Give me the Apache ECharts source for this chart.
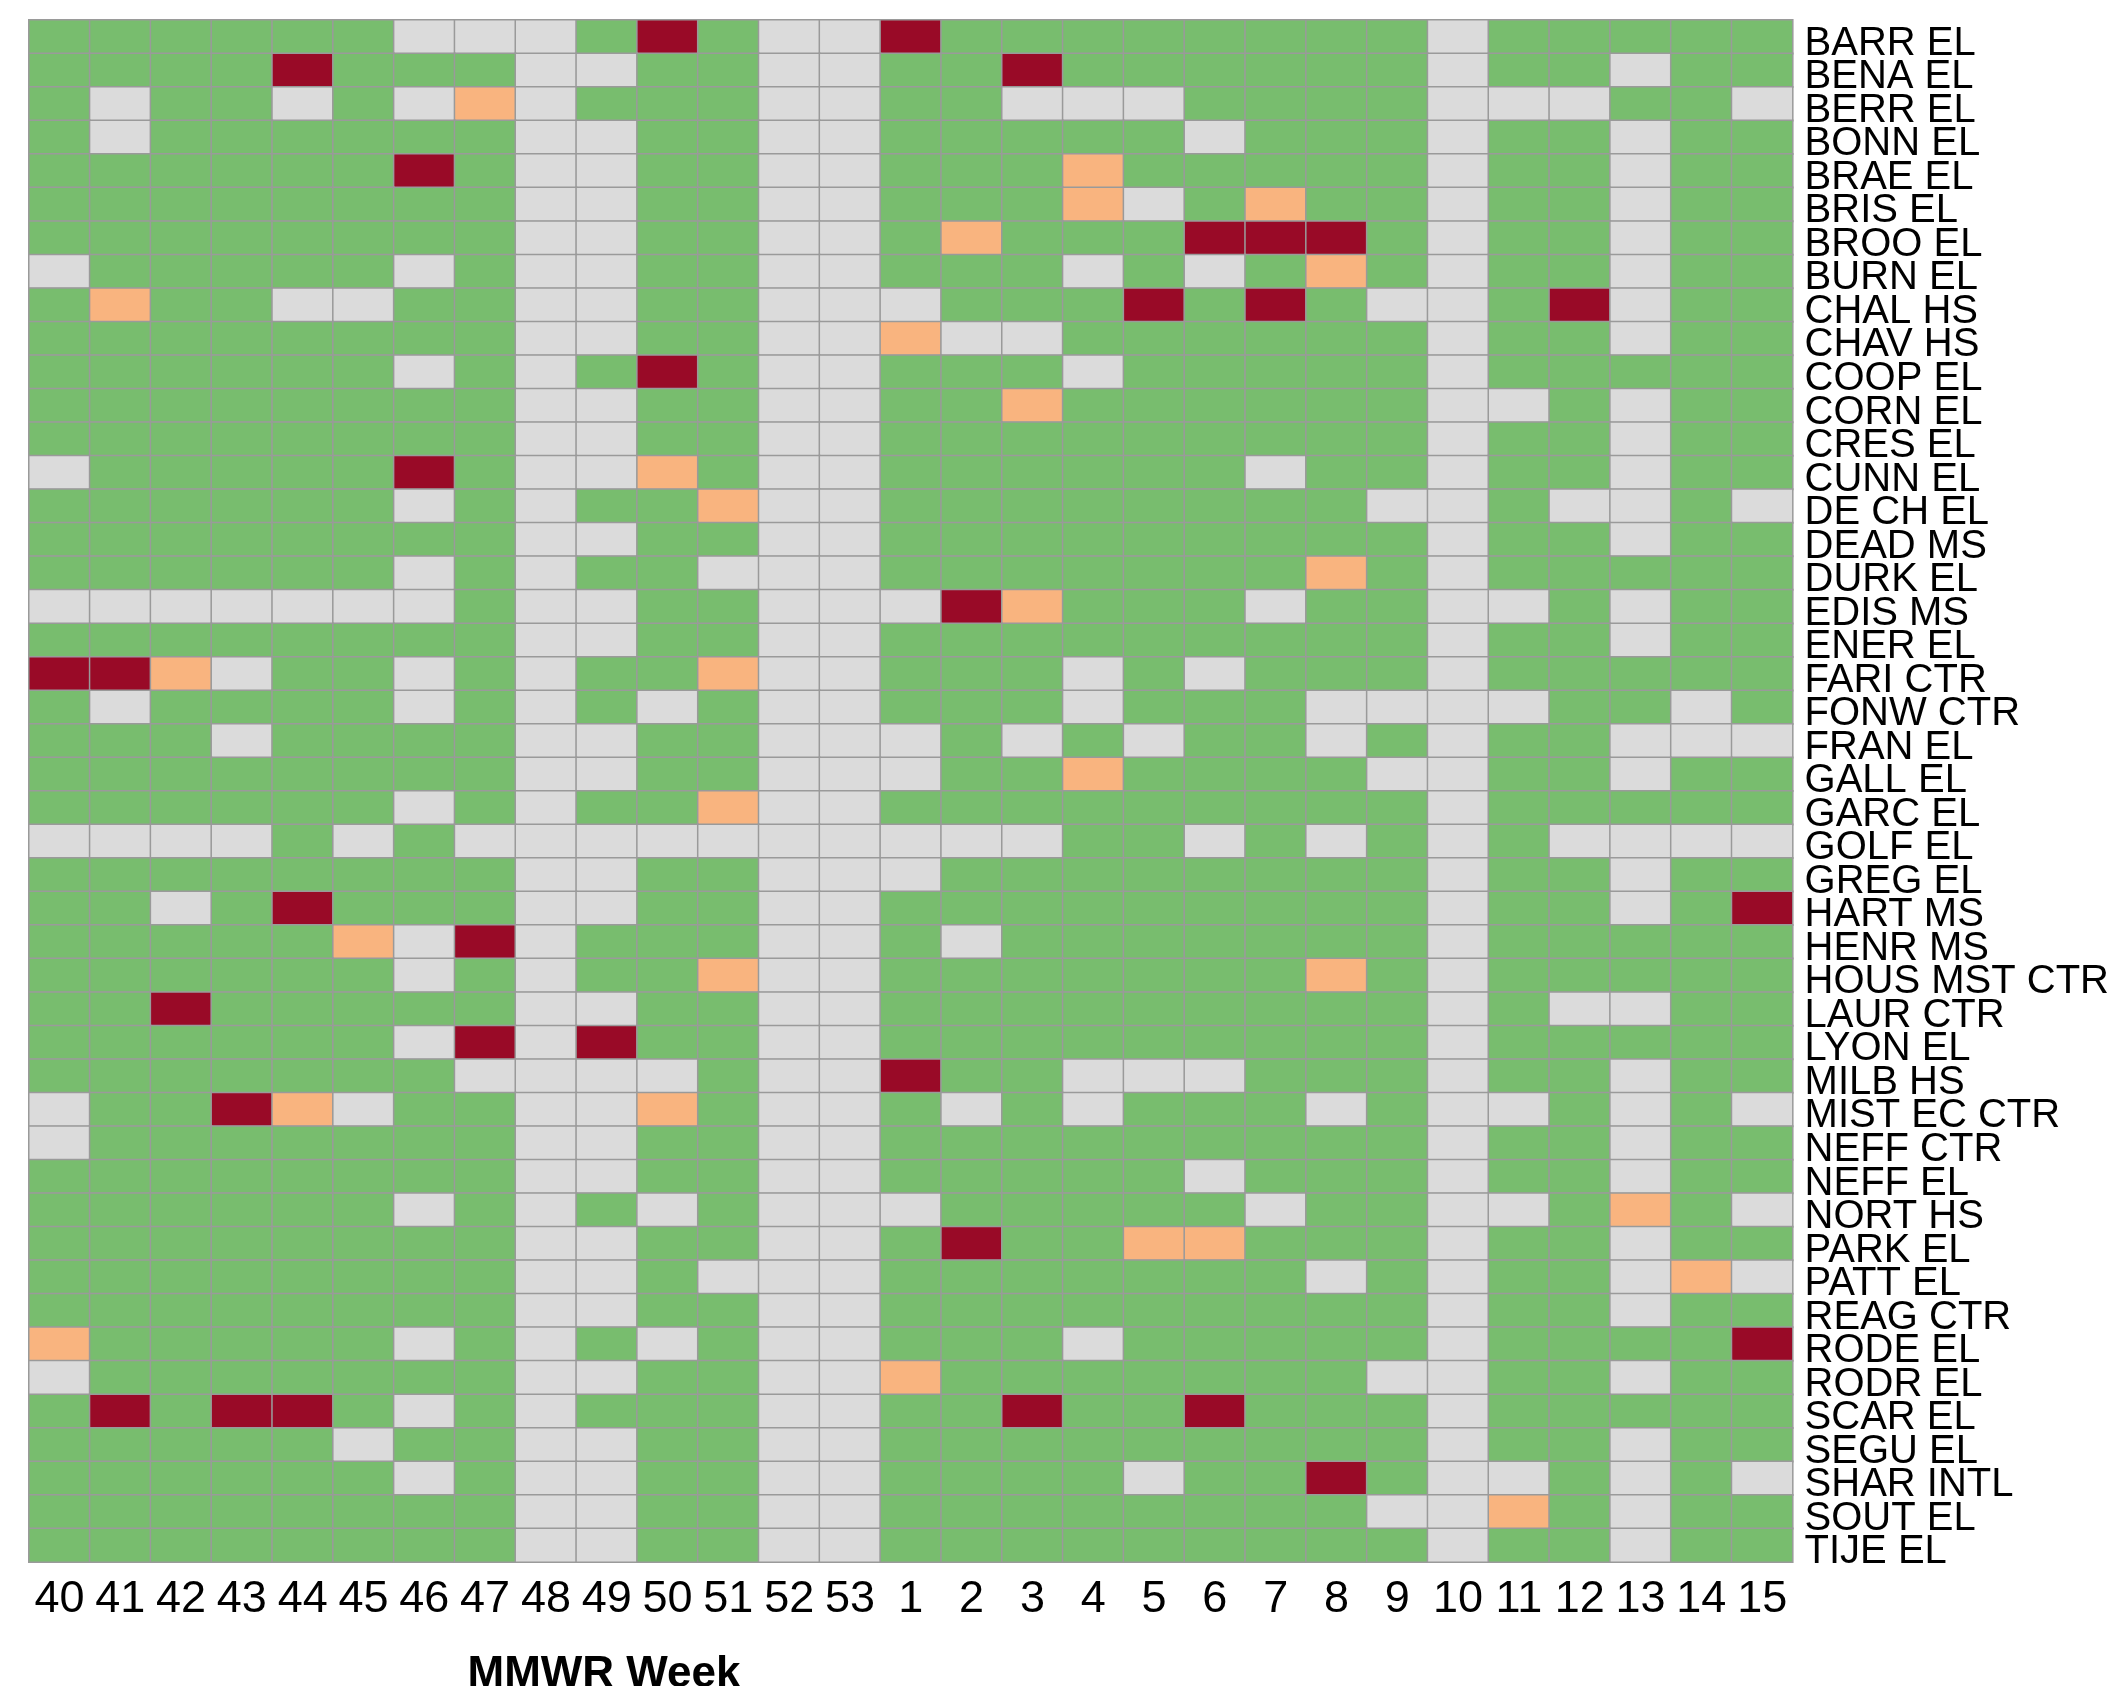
<!DOCTYPE html>
<html>
<head>
<meta charset="utf-8">
<script src="https://cdn.jsdelivr.net/npm/echarts@6/dist/echarts.min.js"></script>
<style>
  html, body { margin: 0; padding: 0; background: #fff; }
  #chart { width: 2112px; height: 1686px; }
</style>
</head>
<body>
<div id="chart"></div>
<script>
// MMWR weeks (columns)
const weeks = ['40','41','42','43','44','45','46','47','48','49','50','51','52','53',
               '1','2','3','4','5','6','7','8','9','10','11','12','13','14','15'];

// Schools (rows, top to bottom)
const schools = ['BARR EL','BENA EL','BERR EL','BONN EL','BRAE EL','BRIS EL','BROO EL','BURN EL',
  'CHAL HS','CHAV HS','COOP EL','CORN EL','CRES EL','CUNN EL','DE CH EL','DEAD MS','DURK EL',
  'EDIS MS','ENER EL','FARI CTR','FONW CTR','FRAN EL','GALL EL','GARC EL','GOLF EL','GREG EL',
  'HART MS','HENR MS','HOUS MST CTR','LAUR CTR','LYON EL','MILB HS','MIST EC CTR','NEFF CTR',
  'NEFF EL','NORT HS','PARK EL','PATT EL','REAG CTR','RODE EL','RODR EL','SCAR EL','SEGU EL',
  'SHAR INTL','SOUT EL','TIJE EL'];

// Status codes: 0 = no data (grey), 1 = normal (green), 2 = elevated (orange), 3 = high (dark red)
const statusCodes = [0, 1, 2, 3];
const statusColors = ['#dbdbdb', '#78bd6e', '#f9b47f', '#990a27'];

// One row per school, one value per week
const status = [
  [1,1,1,1,1,1,0,0,0,1,3,1,0,0,3, 1,1,1,1,1,1,1,1,0,1,1,1,1,1], // BARR EL
  [1,1,1,1,3,1,1,1,0,0,1,1,0,0,1, 1,3,1,1,1,1,1,1,0,1,1,0,1,1], // BENA EL
  [1,0,1,1,0,1,0,2,0,1,1,1,0,0,1, 1,0,0,0,1,1,1,1,0,0,0,1,1,0], // BERR EL
  [1,0,1,1,1,1,1,1,0,0,1,1,0,0,1, 1,1,1,1,0,1,1,1,0,1,1,0,1,1], // BONN EL
  [1,1,1,1,1,1,3,1,0,0,1,1,0,0,1, 1,1,2,1,1,1,1,1,0,1,1,0,1,1], // BRAE EL
  [1,1,1,1,1,1,1,1,0,0,1,1,0,0,1, 1,1,2,0,1,2,1,1,0,1,1,0,1,1], // BRIS EL
  [1,1,1,1,1,1,1,1,0,0,1,1,0,0,1, 2,1,1,1,3,3,3,1,0,1,1,0,1,1], // BROO EL
  [0,1,1,1,1,1,0,1,0,0,1,1,0,0,1, 1,1,0,1,0,1,2,1,0,1,1,0,1,1], // BURN EL
  [1,2,1,1,0,0,1,1,0,0,1,1,0,0,0, 1,1,1,3,1,3,1,0,0,1,3,0,1,1], // CHAL HS
  [1,1,1,1,1,1,1,1,0,0,1,1,0,0,2, 0,0,1,1,1,1,1,1,0,1,1,0,1,1], // CHAV HS
  [1,1,1,1,1,1,0,1,0,1,3,1,0,0,1, 1,1,0,1,1,1,1,1,0,1,1,1,1,1], // COOP EL
  [1,1,1,1,1,1,1,1,0,0,1,1,0,0,1, 1,2,1,1,1,1,1,1,0,0,1,0,1,1], // CORN EL
  [1,1,1,1,1,1,1,1,0,0,1,1,0,0,1, 1,1,1,1,1,1,1,1,0,1,1,0,1,1], // CRES EL
  [0,1,1,1,1,1,3,1,0,0,2,1,0,0,1, 1,1,1,1,1,0,1,1,0,1,1,0,1,1], // CUNN EL
  [1,1,1,1,1,1,0,1,0,1,1,2,0,0,1, 1,1,1,1,1,1,1,0,0,1,0,0,1,0], // DE CH EL
  [1,1,1,1,1,1,1,1,0,0,1,1,0,0,1, 1,1,1,1,1,1,1,1,0,1,1,0,1,1], // DEAD MS
  [1,1,1,1,1,1,0,1,0,1,1,0,0,0,1, 1,1,1,1,1,1,2,1,0,1,1,1,1,1], // DURK EL
  [0,0,0,0,0,0,0,1,0,0,1,1,0,0,0, 3,2,1,1,1,0,1,1,0,0,1,0,1,1], // EDIS MS
  [1,1,1,1,1,1,1,1,0,0,1,1,0,0,1, 1,1,1,1,1,1,1,1,0,1,1,0,1,1], // ENER EL
  [3,3,2,0,1,1,0,1,0,1,1,2,0,0,1, 1,1,0,1,0,1,1,1,0,1,1,1,1,1], // FARI CTR
  [1,0,1,1,1,1,0,1,0,1,0,1,0,0,1, 1,1,0,1,1,1,0,0,0,0,1,1,0,1], // FONW CTR
  [1,1,1,0,1,1,1,1,0,0,1,1,0,0,0, 1,0,1,0,1,1,0,1,0,1,1,0,0,0], // FRAN EL
  [1,1,1,1,1,1,1,1,0,0,1,1,0,0,0, 1,1,2,1,1,1,1,0,0,1,1,0,1,1], // GALL EL
  [1,1,1,1,1,1,0,1,0,1,1,2,0,0,1, 1,1,1,1,1,1,1,1,0,1,1,1,1,1], // GARC EL
  [0,0,0,0,1,0,1,0,0,0,0,0,0,0,0, 0,0,1,1,0,1,0,1,0,1,0,0,0,0], // GOLF EL
  [1,1,1,1,1,1,1,1,0,0,1,1,0,0,0, 1,1,1,1,1,1,1,1,0,1,1,0,1,1], // GREG EL
  [1,1,0,1,3,1,1,1,0,0,1,1,0,0,1, 1,1,1,1,1,1,1,1,0,1,1,0,1,3], // HART MS
  [1,1,1,1,1,2,0,3,0,1,1,1,0,0,1, 0,1,1,1,1,1,1,1,0,1,1,1,1,1], // HENR MS
  [1,1,1,1,1,1,0,1,0,1,1,2,0,0,1, 1,1,1,1,1,1,2,1,0,1,1,1,1,1], // HOUS MST CTR
  [1,1,3,1,1,1,1,1,0,0,1,1,0,0,1, 1,1,1,1,1,1,1,1,0,1,0,0,1,1], // LAUR CTR
  [1,1,1,1,1,1,0,3,0,3,1,1,0,0,1, 1,1,1,1,1,1,1,1,0,1,1,1,1,1], // LYON EL
  [1,1,1,1,1,1,1,0,0,0,0,1,0,0,3, 1,1,0,0,0,1,1,1,0,1,1,0,1,1], // MILB HS
  [0,1,1,3,2,0,1,1,0,0,2,1,0,0,1, 0,1,0,1,1,1,0,1,0,0,1,0,1,0], // MIST EC CTR
  [0,1,1,1,1,1,1,1,0,0,1,1,0,0,1, 1,1,1,1,1,1,1,1,0,1,1,0,1,1], // NEFF CTR
  [1,1,1,1,1,1,1,1,0,0,1,1,0,0,1, 1,1,1,1,0,1,1,1,0,1,1,0,1,1], // NEFF EL
  [1,1,1,1,1,1,0,1,0,1,0,1,0,0,0, 1,1,1,1,1,0,1,1,0,0,1,2,1,0], // NORT HS
  [1,1,1,1,1,1,1,1,0,0,1,1,0,0,1, 3,1,1,2,2,1,1,1,0,1,1,0,1,1], // PARK EL
  [1,1,1,1,1,1,1,1,0,0,1,0,0,0,1, 1,1,1,1,1,1,0,1,0,1,1,0,2,0], // PATT EL
  [1,1,1,1,1,1,1,1,0,0,1,1,0,0,1, 1,1,1,1,1,1,1,1,0,1,1,0,1,1], // REAG CTR
  [2,1,1,1,1,1,0,1,0,1,0,1,0,0,1, 1,1,0,1,1,1,1,1,0,1,1,1,1,3], // RODE EL
  [0,1,1,1,1,1,1,1,0,0,1,1,0,0,2, 1,1,1,1,1,1,1,0,0,1,1,0,1,1], // RODR EL
  [1,3,1,3,3,1,0,1,0,1,1,1,0,0,1, 1,3,1,1,3,1,1,1,0,1,1,1,1,1], // SCAR EL
  [1,1,1,1,1,0,1,1,0,0,1,1,0,0,1, 1,1,1,1,1,1,1,1,0,1,1,0,1,1], // SEGU EL
  [1,1,1,1,1,1,0,1,0,0,1,1,0,0,1, 1,1,1,0,1,1,3,1,0,0,1,0,1,0], // SHAR INTL
  [1,1,1,1,1,1,1,1,0,0,1,1,0,0,1, 1,1,1,1,1,1,1,0,0,2,1,0,1,1], // SOUT EL
  [1,1,1,1,1,1,1,1,0,0,1,1,0,0,1, 1,1,1,1,1,1,1,1,0,1,1,0,1,1]  // TIJE EL
];

const heatData = [];
status.forEach((row, yi) => {
  row.forEach((v, xi) => heatData.push([xi, yi, v]));
});

const chart = echarts.init(document.getElementById('chart'), null, { renderer: 'canvas' });
const FONT = '"Liberation Sans", Arial, sans-serif';

chart.setOption({
  animation: false,
  backgroundColor: '#ffffff',
  grid: { left: 29, top: 20, width: 1766, height: 1542 },
  xAxis: {
    type: 'category',
    data: weeks,
    axisLine: { show: false },
    axisTick: { show: false },
    splitLine: { show: false },
    splitArea: { show: false },
    axisLabel: { interval: 0, fontSize: 45, color: '#000', fontFamily: FONT, margin: 15 }
  },
  yAxis: {
    type: 'category',
    data: schools,
    inverse: true,
    position: 'right',
    axisLine: { show: false },
    axisTick: { show: false },
    splitLine: { show: false },
    splitArea: { show: false },
    axisLabel: {
      interval: 0, fontSize: 40, color: '#000', fontFamily: FONT, margin: 12, align: 'left',
      verticalAlign: 'top', lineHeight: 14
    }
  },
  visualMap: {
    type: 'piecewise',
    show: false,
    dimension: 2,
    pieces: statusCodes.map((c, i) => ({ value: c, color: statusColors[i] }))
  },
  graphic: [{
    type: 'text',
    x: 604,
    y: 1653,
    style: {
      text: 'MMWR Week',
      fontSize: 44,
      fontWeight: 'bold',
      fontFamily: FONT,
      fill: '#000',
      textAlign: 'center',
      textVerticalAlign: 'top'
    }
  }],
  series: [{
    type: 'heatmap',
    data: heatData,
    itemStyle: { borderColor: '#9a9a9a', borderWidth: 1.5 },
    emphasis: { disabled: true }
  }]
});
</script>
</body>
</html>
